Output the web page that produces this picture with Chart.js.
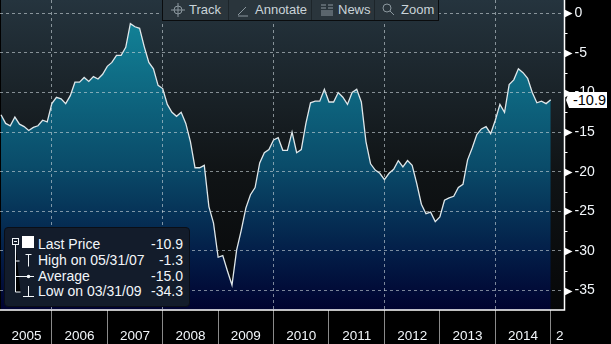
<!DOCTYPE html>
<html>
<head>
<meta charset="utf-8">
<title>Last Price</title>
<script src="https://cdn.jsdelivr.net/npm/chart.js@4/dist/chart.umd.min.js"></script>
<style>
html, body { margin: 0; padding: 0; background: #000; }
body { width: 611px; height: 344px; overflow: hidden; position: relative; font-family: "Liberation Sans", sans-serif; }
#wrap { position: absolute; left: 0; top: 0; width: 611px; height: 344px; }
#wrap canvas { display: block; }
#toolbar { position: absolute; left: 162px; top: -1px; width: 275px; height: 20px; background: #2a353c; border: 1px solid #0a0c0e; color: #c9d3d8; font-size: 13px; line-height: 20px; }
#toolbar span { position: absolute; top: 0; }
#toolbar i { position: absolute; top: 0; width: 1px; height: 20px; background: #1d252a; }
#toolbar svg { position: absolute; top: 2px; }
#legend { position: absolute; left: 4px; top: 227px; width: 184px; height: 78px; background: #131c2b; border: 1px solid #0a0e16; border-radius: 4px; color: #f2f6fa; font-size: 14px; }
#legend div { position: absolute; left: 33px; width: 145px; height: 16px; line-height: 16px; white-space: nowrap; }
#legend b { position: absolute; right: 0; top: 0; font-weight: normal; }
#legend svg { position: absolute; left: 0; top: 0; }
#tag { position: absolute; left: 566px; top: 92px; width: 41px; height: 16px; background: #fff; color: #000; font-size: 14.5px; line-height: 16px; text-align: right; clip-path: polygon(0 50%, 3px 0, 100% 0, 100% 100%, 3px 100%); }
#tag span { padding-right: 1px; }
#cut { position: absolute; left: 556px; top: 328px; width: 8px; height: 16px; overflow: hidden; color: #f2f6fa; font-size: 13.5px; line-height: 16px; }
</style>
</head>
<body>
<div id="wrap"><canvas id="chart" width="611" height="344"></canvas></div>

<div id="toolbar">
  <svg width="20" height="16" style="left:5px"><circle cx="10" cy="8" r="4" fill="none" stroke="#8b979e"/><path d="M10 1v14M3 8h14" stroke="#8b979e"/></svg>
  <span style="left:26px">Track</span><i style="left:65px"></i>
  <svg width="16" height="16" style="left:73px"><path d="M2 13l8-8M2 14h10" stroke="#8b979e"/></svg>
  <span style="left:92px">Annotate</span><i style="left:148px"></i>
  <svg width="16" height="16" style="left:157px"><path d="M1 3h5M1 6h5M1 9h12M1 11h12M1 13h12M8 3h5M8 6h5" stroke="#8b979e"/></svg>
  <span style="left:175px">News</span><i style="left:211px"></i>
  <svg width="16" height="16" style="left:218px"><circle cx="6" cy="6" r="4" fill="none" stroke="#8b979e"/><path d="M9 9l4 4" stroke="#8b979e"/></svg>
  <span style="left:238px">Zoom</span>
</div>

<div id="legend">
  <svg width="34" height="70" style="left:0;top:0">
    <rect x="7.5" y="10.5" width="6" height="6" fill="none" stroke="#f2f6fa"/>
    <path d="M9 13.5h3" stroke="#f2f6fa"/>
    <path d="M10.5 17v47h5M10.5 33h4M10.5 48.5h8" stroke="#f2f6fa"/>
    <rect x="17" y="8" width="12" height="12" fill="#fff"/>
    <path d="M20.5 26.5h6M23.5 26.5v12" stroke="#f2f6fa"/>
    <circle cx="23.5" cy="48.5" r="1.8" fill="#f2f6fa"/><path d="M18 48.5h11" stroke="#f2f6fa"/>
    <path d="M23.5 58v10M18 68.5h11" stroke="#f2f6fa"/>
  </svg>
  <div style="top:8px">Last Price<b>-10.9</b></div>
  <div style="top:24px">High on 05/31/07<b>-1.3</b></div>
  <div style="top:40px">Average<b>-15.0</b></div>
  <div style="top:55px">Low on 03/31/09<b>-34.3</b></div>
</div>

<div id="tag"><span>-10.9</span></div>
<div id="cut">2015</div>

<script>
// month end values, Jan 2005 to Dec 2014
const lastPrice = [
    -12.8, -13.9, -14.2, -13.1, -14.0, -14.3, -14.8, -14.4, -14.2, -13.5, -13.7, -11.4,
    -10.6, -10.8, -11.4, -10.4, -8.7, -8.7, -8.1, -8.6, -8.0, -8.3, -7.7, -6.7,
    -6.2, -5.3, -5.3, -4.3, -1.3, -1.7, -1.9, -4.2, -6.2, -7.0, -9.1, -9.5,
    -11.5, -12.5, -13.0, -12.5, -13.9, -16.2, -19.5, -19.5, -19.2, -24.4, -26.5, -30.8,
    -30.6, -32.5, -34.3, -29.9, -27.4, -24.6, -22.9, -22.0, -18.9, -17.6, -17.2, -16.0,
    -15.7, -17.3, -17.3, -15.0, -17.6, -17.2, -13.9, -11.3, -11.1, -11.1, -9.6, -11.2,
    -11.2, -10.0, -10.6, -11.5, -10.0, -9.6, -11.2, -16.2, -19.0, -19.8, -20.2, -21.0,
    -20.2, -19.7, -18.6, -19.4, -18.6, -19.2, -21.5, -24.1, -25.3, -25.1, -26.3, -25.7,
    -23.6, -23.3, -23.1, -22.0, -21.6, -18.5, -17.0, -15.3, -14.6, -14.3, -15.2, -13.5,
    -11.5, -12.5, -9.0, -8.4, -7.0, -7.5, -8.2, -10.0, -11.3, -11.1, -11.4, -10.9
];
const yearLabels = ["2005", "2006", "2007", "2008", "2009", "2010", "2011", "2012", "2013", "2014"];
const yearEnds = [11, 23, 35, 47, 59, 71, 83, 95, 107, 119];
const yearMiddles = [5.5, 17, 29, 41, 53, 65, 77, 89, 101, 113];
const gridYearEnds = [11, 35, 59, 83, 107];
const valueTicks = [-35, -30, -25, -20, -15, -10, -5, 0];
const minorTicks = [-32.5, -27.5, -22.5, -17.5, -12.5, -7.5, -2.5];

// the layout keeps room for the tick labels, not wanted here
function noPadding(scale) {
    scale.paddingTop = 0;
    scale.paddingBottom = 0;
    scale.paddingLeft = 0;
    scale.paddingRight = 0;
}

// plot background, axis lines and the little arrows on the value axis
const decorations = {
    id: 'decorations',
    beforeDraw(chart) {
        const { ctx, chartArea: a } = chart;
        const g = ctx.createLinearGradient(0, a.top, 0, a.bottom);
        g.addColorStop(0, '#25343e');
        g.addColorStop(0.55, '#101416');
        g.addColorStop(1, '#060708');
        ctx.fillStyle = g;
        ctx.fillRect(a.left + 1, a.top, a.right - a.left - 1, a.bottom - a.top);
    },
    afterDraw(chart) {
        const { ctx, chartArea: a, scales } = chart;
        ctx.save();
        ctx.fillStyle = '#fff';
        ctx.strokeStyle = '#fff';
        ctx.lineWidth = 1.5;
        ctx.beginPath();
        ctx.moveTo(a.right, 0);
        ctx.lineTo(a.right, a.bottom);
        ctx.lineTo(0, a.bottom);
        ctx.stroke();
        ctx.lineWidth = 1;
        valueTicks.forEach(v => {
            const y = Math.round(scales.y.getPixelForValue(v));
            ctx.beginPath();
            ctx.moveTo(a.right, y - 3.5);
            ctx.lineTo(a.right + 8, y + 0.5);
            ctx.lineTo(a.right, y + 4.5);
            ctx.closePath();
            ctx.fill();
        });
        minorTicks.forEach(v => {
            const y = Math.round(scales.y.getPixelForValue(v)) + 0.5;
            ctx.beginPath();
            ctx.moveTo(a.right, y);
            ctx.lineTo(a.right + 3, y);
            ctx.stroke();
        });
        ctx.restore();
    }
};

const ctx = document.getElementById('chart').getContext('2d');
new Chart(ctx, {
    type: 'line',
    data: {
        datasets: [{
            data: lastPrice.map((v, i) => ({ x: i + 0.22, y: v })),
            borderColor: '#dfe7ea',
            borderWidth: 1.3,
            pointRadius: 0,
            tension: 0,
            fill: 'start',
            backgroundColor(c) {
                const a = c.chart.chartArea;
                if (!a) return '#0a4a66';
                const g = c.chart.ctx.createLinearGradient(0, 20, 0, a.bottom);
                g.addColorStop(0, '#128297');
                g.addColorStop(0.5, '#0a4c6a');
                g.addColorStop(0.8, '#031e48');
                g.addColorStop(1, '#000230');
                return g;
            }
        }]
    },
    options: {
        responsive: false,
        animation: false,
        layout: { padding: 0, autoPadding: false },
        plugins: { legend: { display: false }, tooltip: { enabled: false } },
        scales: {
            x: {
                type: 'linear',
                min: 0,
                max: 122.2,
                afterBuildTicks(scale) {
                    scale.ticks = yearEnds.concat(yearMiddles).map(v => ({ value: v + 0.22 }));
                },
                afterFit(scale) { scale.height = 34; noPadding(scale); },
                border: { display: false, dash: [3, 3] },
                grid: {
                    z: 1,
                    color: c => gridYearEnds.includes(c.tick && c.tick.value - 0.22) ? 'rgba(205,215,220,0.6)' : 'rgba(0,0,0,0)',
                    tickColor: c => yearEnds.includes(c.tick && c.tick.value - 0.22) ? '#8a8a8a' : 'rgba(0,0,0,0)',
                    tickLength: 34,
                    lineWidth: 1
                },
                ticks: {
                    autoSkip: false,
                    maxRotation: 0,
                    padding: -16,
                    color: '#f2f6fa',
                    font: { family: 'Liberation Sans', size: 13.5 },
                    callback(v) {
                        const i = yearMiddles.indexOf(v - 0.22);
                        return i >= 0 ? yearLabels[i] : '';
                    }
                }
            },
            y: {
                position: 'right',
                min: -37.46,
                max: 1.68,
                afterBuildTicks(scale) {
                    scale.ticks = valueTicks.map(v => ({ value: v }));
                },
                afterFit(scale) { scale.width = 46.5; noPadding(scale); },
                border: { display: false, dash: [3, 3] },
                grid: { z: 1, color: 'rgba(205,215,220,0.6)', drawTicks: false, lineWidth: 1 },
                ticks: {
                    padding: 10,
                    color: '#f2f6fa',
                    font: { family: 'Liberation Sans', size: 14 },
                    callback: v => String(v)
                }
            }
        }
    },
    plugins: [decorations]
});
</script>
</body>
</html>
